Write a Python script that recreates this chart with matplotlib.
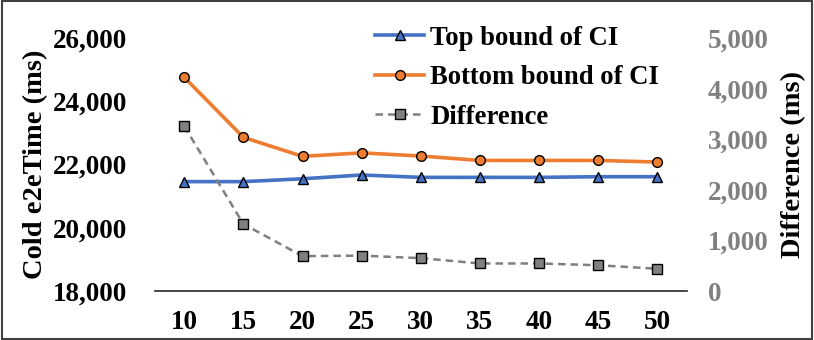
import matplotlib
matplotlib.use("Agg")
import matplotlib.pyplot as plt
from matplotlib.patches import Rectangle

categories = ["10", "15", "20", "25", "30", "35", "40", "45", "50"]
top_bound = [21460, 21460, 21550, 21670, 21595, 21595, 21595, 21615, 21615]
bottom_bound = [24760, 22860, 22260, 22370, 22270, 22130, 22130, 22130, 22080]
difference = [3260, 1325, 690, 700, 650, 545, 545, 510, 440]
left_ticks = [18000, 20000, 22000, 24000, 26000]
right_ticks = [0, 1000, 2000, 3000, 4000, 5000]

plt.rcParams['font.family'] = ['Liberation Serif', 'DejaVu Serif']
plt.rcParams['font.weight'] = 'bold'

fig = plt.figure(figsize=(8.14, 3.4), dpi=100)
ax = fig.add_axes([0.190, 0.144, 0.654, 0.744])
ax2 = ax.twinx()

x = list(range(len(categories)))
l1, = ax.plot(x, top_bound, color='#4472C4', lw=2.6, marker='^', ms=7,
              mfc='#4472C4', mec='black', mew=1.0, label='Top bound of CI', zorder=3)
l2, = ax.plot(x, bottom_bound, color='#ED7D31', lw=2.6, marker='o', ms=7,
              mfc='#ED7D31', mec='black', mew=1.0, label='Bottom bound of CI', zorder=3)
l3, = ax2.plot(x, difference, color='#7F7F7F', lw=1.8, ls=(0, (3, 2)), marker='s', ms=6.5,
               mfc='#808080', mec='black', mew=1.0, label='Difference', zorder=3)

ax.set_xlim(-0.5, len(categories) - 0.5)
ax.set_ylim(18000, 26000)
ax2.set_ylim(0, 5000)
ax.set_xticks(x)
ax.set_xticklabels(categories)
ax.set_yticks(left_ticks)
ax.set_yticklabels([f"{v:,}" for v in left_ticks])
ax2.set_yticks(right_ticks)
ax2.set_yticklabels([f"{v:,}" for v in right_ticks])

for a in (ax, ax2):
    for s in a.spines.values():
        s.set_visible(False)
ax.spines['bottom'].set_visible(True)
ax.spines['bottom'].set_color('#262626')
ax.spines['bottom'].set_linewidth(1.2)

ax.tick_params(axis='x', length=0, pad=14, labelsize=19.5)
ax.tick_params(axis='y', length=0, pad=20, labelsize=19.5)
ax2.tick_params(axis='y', length=0, pad=15, labelsize=19.5, labelcolor='#808080')
for t in ax.get_xticklabels() + ax.get_yticklabels() + ax2.get_yticklabels():
    t.set_fontweight('bold')

ax.set_ylabel('Cold e2eTime (ms)', fontsize=20.5, fontweight='bold')
ax2.set_ylabel('Difference (ms)', fontsize=20.5, fontweight='bold')
ax.yaxis.set_label_coords(-0.200, 0.5)
ax2.yaxis.set_label_coords(1.177, 0.5)

leg = fig.legend(handles=[l1, l2, l3], loc='upper left', bbox_to_anchor=(0.431, 0.995),
                 frameon=False, handlelength=1.85, handletextpad=0.22,
                 labelspacing=0.54, prop={'weight': 'bold', 'size': 19.2})

fig.patches.append(Rectangle((0.002, 0.003), 0.996, 0.994, transform=fig.transFigure,
                             fill=False, edgecolor='#404040', lw=1.5))

fig.savefig('out.png', dpi=100)
